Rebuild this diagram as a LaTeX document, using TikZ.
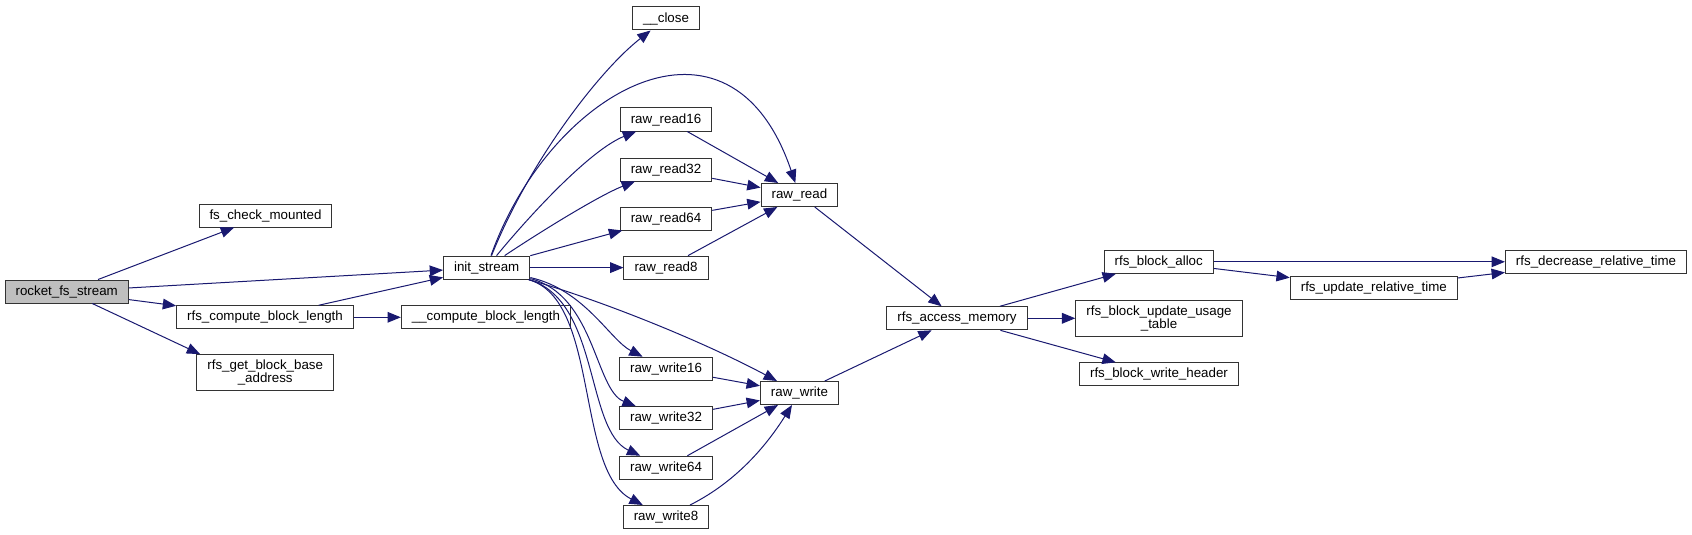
\documentclass[tikz,border=0pt]{standalone}
\usepackage{fontspec}
\setmainfont{Liberation Sans}
\usepackage{xcolor}
\usepackage{tikz}
\usetikzlibrary{arrows.meta}
\definecolor{cEdge}{HTML}{191970}
\definecolor{cRoot}{HTML}{BFBFBF}
\definecolor{cLine}{HTML}{333333}
\tikzset{
  fn/.style={draw=cLine, line width=0.75pt, fill=#1, text=black, align=center,
             font=\fontsize{10pt}{10pt}\selectfont, inner xsep=7.9pt, inner ysep=4pt,
             minimum height=17.25pt},
  fn/.default=white,
  call/.style={-{Triangle[length=10pt,width=8pt]}, line width=0.75pt, draw=cEdge},
}
\begin{document}
\begin{tikzpicture}[x=0.75pt, y=-0.75pt]
\useasboundingbox (0,0) rectangle (1692,535);
\node[fn=cRoot] (rocket) at (66.7,291.5) {rocket\_fs\_stream};
\node[fn] (mounted) at (265.5,215.5) {fs\_check\_mounted};
\node[fn] (init) at (486.7,267.6) {init\_stream};
\node[fn] (cbl) at (265,317.3) {rfs\_compute\_block\_length};
\node[fn] (ccbl) at (486,317.3) {\_\_compute\_block\_length};
\node[fn] (base) at (265.2,372.8) {rfs\_get\_block\_base\\\_address};
\node[fn] (close) at (666,18.5) {\_\_close};
\node[fn] (rr16) at (666,119.5) {raw\_read16};
\node[fn] (rr32) at (666,169.5) {raw\_read32};
\node[fn] (rr64) at (666,218.5) {raw\_read64};
\node[fn] (rr8) at (666,267.6) {raw\_read8};
\node[fn] (rread) at (799.4,195) {raw\_read};
\node[fn] (rw16) at (666,368.7) {raw\_write16};
\node[fn] (rw32) at (666,418.2) {raw\_write32};
\node[fn] (rw64) at (666,467.7) {raw\_write64};
\node[fn] (rw8) at (666,517) {raw\_write8};
\node[fn] (rwrite) at (799.5,393) {raw\_write};
\node[fn] (access) at (957,318.3) {rfs\_access\_memory};
\node[fn] (alloc) at (1158.7,261.8) {rfs\_block\_alloc};
\node[fn] (usage) at (1159,318.3) {rfs\_block\_update\_usage\\\_table};
\node[fn] (header) at (1159,374.3) {rfs\_block\_write\_header};
\node[fn] (update) at (1373.8,287.8) {rfs\_update\_relative\_time};
\node[fn] (decrease) at (1596,261.8) {rfs\_decrease\_relative\_time};
\draw[call] (rocket) -- (mounted); \draw[call] (rocket) -- (init);
\draw[call] (rocket) -- (cbl); \draw[call] (rocket) -- (base.164);
\draw[call] (cbl) -- (init); \draw[call] (cbl) -- (ccbl);
\draw[call] (init) .. controls (530,160) and (600,70) .. (close);
\draw[call] (init) .. controls (550,90) and (730,-10) .. (rread);
\draw[call] (init) .. controls (530,215) and (590,150) .. (rr16);
\draw[call] (init) .. controls (540,232) and (600,195) .. (rr32);
\draw[call] (init) -- (rr64); \draw[call] (init) -- (rr8);
\draw[call] (init) .. controls (600,300) and (700,340) .. (rwrite);
\draw[call] (init) .. controls (585,290) and (610,340) .. (rw16);
\draw[call] (init) .. controls (595,295) and (595,390) .. (rw32);
\draw[call] (init) .. controls (600,300) and (585,430) .. (rw64);
\draw[call] (init) .. controls (600,300) and (575,470) .. (rw8);
\draw[call] (rr16) -- (rread); \draw[call] (rr32) -- (rread);
\draw[call] (rr64) -- (rread); \draw[call] (rr8) -- (rread);
\draw[call] (rw16) -- (rwrite); \draw[call] (rw32) -- (rwrite);
\draw[call] (rw64) -- (rwrite);
\draw[call] (rw8) .. controls (740,480) and (770,440) .. (rwrite);
\draw[call] (rread) -- (access); \draw[call] (rwrite) -- (access);
\draw[call] (access) -- (alloc); \draw[call] (access) -- (usage);
\draw[call] (access) -- (header);
\draw[call] (alloc) -- (decrease); \draw[call] (alloc) -- (update);
\draw[call] (update) -- (decrease);
\end{tikzpicture}
\end{document}
